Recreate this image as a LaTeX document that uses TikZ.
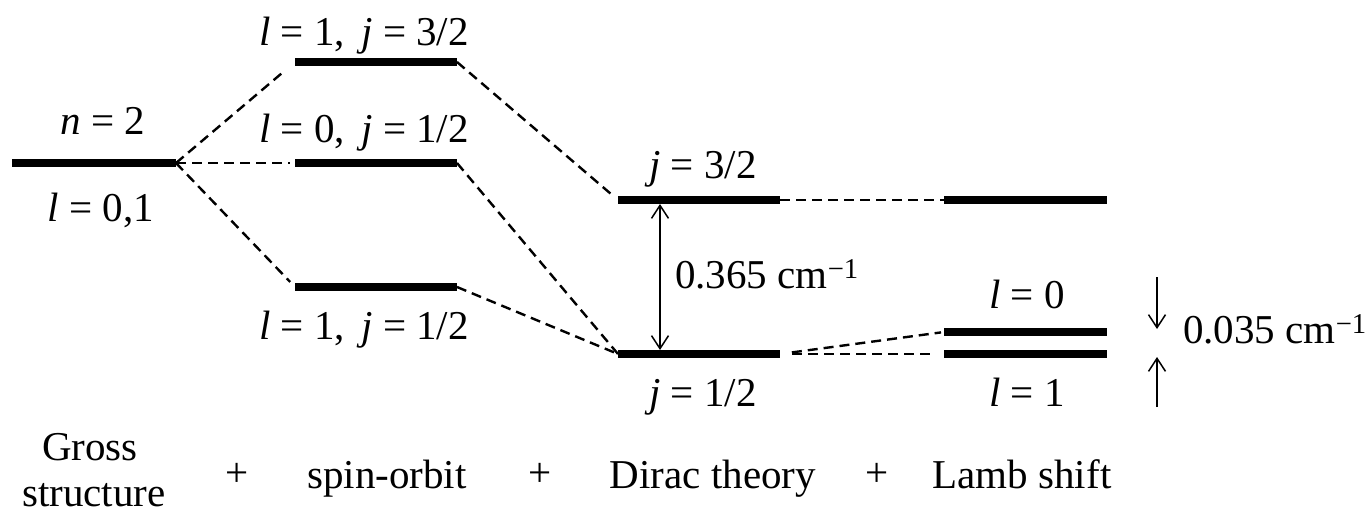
\documentclass[tikz,border=0pt]{standalone}
\usepackage{fontspec}
\setmainfont{Liberation Serif}
\usetikzlibrary{arrows.meta}
\begin{document}
\begin{tikzpicture}[x=1pt,y=-1pt,
  level/.style={line width=8pt},
  conn/.style={line width=2.4pt, dash pattern=on 10pt off 6pt},
  dim/.style={line width=1.5pt, >={Straight Barb[length=13pt,width=17pt]}},
  lab/.style={inner sep=0pt, anchor=base, font=\fontsize{41}{49}\selectfont}]
\useasboundingbox (0,0) rectangle (1370,515);
% level end points
\coordinate (g1) at (12,163);  \coordinate (g2) at (176,163);
\coordinate (a1) at (295,62);  \coordinate (a2) at (457,62);
\coordinate (b1) at (295,163); \coordinate (b2) at (457,163);
\coordinate (c1) at (295,287); \coordinate (c2) at (457,287);
\coordinate (d1) at (618,200); \coordinate (d2) at (780,200);
\coordinate (e1) at (618,354); \coordinate (e2) at (780,354);
\coordinate (f1) at (944,200); \coordinate (f2) at (1107,200);
\coordinate (h1) at (944,332); \coordinate (h2) at (1107,332);
\coordinate (k1) at (944,354); \coordinate (k2) at (1107,354);
\foreach \p in {g,a,b,c,d,e,f,h,k} \draw[level] (\p1) -- (\p2);
% dashed connectors
\draw[conn, shorten >=14pt] (g2) -- (a1);
\draw[conn, shorten >=5pt] (g2) -- (b1);
\draw[conn, shorten >=7pt] (g2) -- (c1);
\draw[conn, shorten >=6pt] (a2) -- (d1);
\draw[conn] (b2) -- (e1);
\draw[conn] (c2) -- (e1);
\draw[conn] (d2) -- (f1);
\draw[conn, shorten <=12pt, shorten >=3pt] (e2) -- (h1);
\draw[conn, shorten <=12pt, shorten >=12pt] (e2) -- (k1);
% dimension arrows
\coordinate (m1) at (660,204); \coordinate (m2) at (660,350);
\draw[dim, <->] (m1) -- (m2);
\coordinate (p1) at (1157,277); \coordinate (p2) at (1157,329);
\coordinate (q1) at (1157,407); \coordinate (q2) at (1157,357);
\draw[dim, ->] (p1) -- (p2);
\draw[dim, ->] (q1) -- (q2);
% labels
\node[lab] (tn) at (103,134) {\textit{n} = 2};
\node[lab] (tl) at (101,221) {\textit{l} = 0,1};
\node[lab] (ta) at (364,45) {\textit{l} = 1,\hspace{0.4em}\textit{j} = 3/2};
\node[lab] (tb) at (364,142) {\textit{l} = 0,\hspace{0.4em}\textit{j} = 1/2};
\node[lab] (tc) at (364,339) {\textit{l} = 1,\hspace{0.4em}\textit{j} = 1/2};
\node[lab] (td) at (703,178) {\textit{j} = 3/2};
\node[lab] (te) at (703,406) {\textit{j} = 1/2};
\node[lab] (th) at (1027,308) {\textit{l} = 0};
\node[lab] (tk) at (1027,406) {\textit{l} = 1};
\node[lab, anchor=base west] (tm) at (675,288) {0.365 cm\textsuperscript{−1}};
\node[lab, anchor=base west] (tp) at (1183,343) {0.035 cm\textsuperscript{−1}};
% bottom captions
\node[lab] (s1) at (90,460) {Gross};
\node[lab] (s2) at (94,506) {structure};
\node[lab] (p1t) at (237,486) {+};
\node[lab] (s3) at (387,488) {spin-orbit};
\node[lab] (p2t) at (540,486) {+};
\node[lab] (s4) at (713,488) {Dirac theory};
\node[lab] (p3t) at (877,486) {+};
\node[lab] (s5) at (1022,488) {Lamb shift};
\end{tikzpicture}
\end{document}
